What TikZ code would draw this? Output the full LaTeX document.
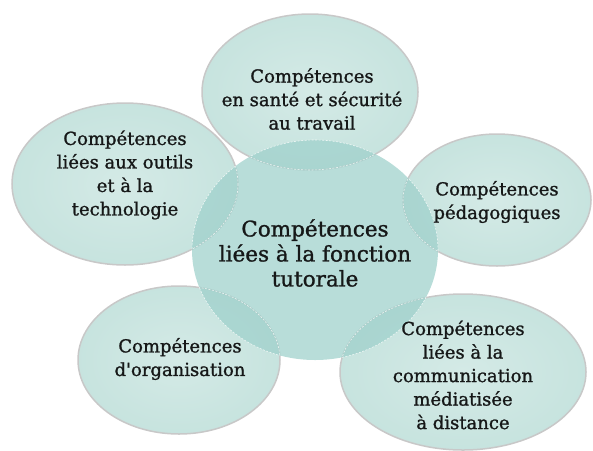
\documentclass[tikz,border=0pt]{standalone}
\usepackage{fontspec}
\setmainfont{DejaVu Serif}[BoldFont=DejaVu Serif, BoldFeatures={FakeBold=1.2}]
\usetikzlibrary{shapes.geometric}
\definecolor{bubfill}{RGB}{198,227,222}
\definecolor{bubedge}{RGB}{128,160,154}
\definecolor{bubrim}{RGB}{200,200,200}
\definecolor{hubfill}{RGB}{160,209,204}
\definecolor{txtcol}{RGB}{22,24,24}
\pgfdeclareradialshading{bubshade}{\pgfpoint{0bp}{0bp}}{%
  color(0bp)=(bubfill!75!white); color(26bp)=(bubfill); color(40bp)=(bubfill!85!bubedge);
  color(47bp)=(bubfill!45!bubedge); color(50bp)=(bubedge); color(100bp)=(bubedge)}

\begin{document}
\begin{tikzpicture}[x=1pt, y=-1pt,
  bubble/.style={ellipse, draw=bubrim, line width=1.5pt, shading=bubshade, inner sep=0pt},
  hub/.style={ellipse, fill=hubfill, fill opacity=0.75, inner sep=0pt},
  txt/.style={align=center, text=txtcol, font=\fontsize{18}{23.5}\selectfont\bfseries},
  hubtxt/.style={align=center, text=txtcol, font=\fontsize{21.5}{25}\selectfont\bfseries},
  seam/.style={draw=white, draw opacity=0.75, line width=0.6pt, dash pattern=on 2pt off 1.5pt}
]
\useasboundingbox (0,0) rectangle (593,450);

% outer bubbles
\node[bubble, minimum width=216pt, minimum height=156pt] (sante) at (310,92)  {};
\node[bubble, minimum width=226pt, minimum height=162pt] (outil) at (125,184) {};
\node[bubble, minimum width=188pt, minimum height=132pt] (peda)  at (497,200) {};
\node[bubble, minimum width=202pt, minimum height=148pt] (orga)  at (179,360) {};
\node[bubble, minimum width=246pt, minimum height=156pt] (comm)  at (463,372) {};

% central bubble
\node[hub, minimum width=246pt, minimum height=220pt] (hub) at (315,250) {};

% seams where bubbles overlap
\begin{scope}
  \clip (hub.center) ellipse [x radius=123, y radius=110];
  \draw[seam] (sante.center) ellipse [x radius=108, y radius=78];
  \draw[seam] (outil.center) ellipse [x radius=113, y radius=81];
  \draw[seam] (peda.center)  ellipse [x radius=94,  y radius=66];
  \draw[seam] (orga.center)  ellipse [x radius=101, y radius=74];
  \draw[seam] (comm.center)  ellipse [x radius=123, y radius=78];
\end{scope}
\foreach \b/\rx/\ry in {sante/108/78, outil/113/81, peda/94/66, orga/101/74, comm/123/78}{
  \begin{scope}
    \clip (\b.center) ellipse [x radius=\rx, y radius=\ry];
    \draw[seam] (hub.center) ellipse [x radius=123, y radius=110];
  \end{scope}
}

% labels
\node[txt] (tsante) at (312,99)  {Compétences\\en santé et sécurité\\au travail};
\node[txt] (toutil) at (125,175) {Compétences\\liées aux outils\\et à la\\technologie};
\node[txt] (tpeda)  at (497,202) {Compétences\\pédagogiques};
\node[txt] (torga)  at (180,359) {Compétences\\d\textquotesingle organisation};
\node[txt] (tcomm)  at (463,375) {Compétences\\liées à la\\communication\\médiatisée\\à distance};
\node[hubtxt] (thub) at (315,253) {Compétences\\liées à la fonction\\tutorale};
\end{tikzpicture}
\end{document}
